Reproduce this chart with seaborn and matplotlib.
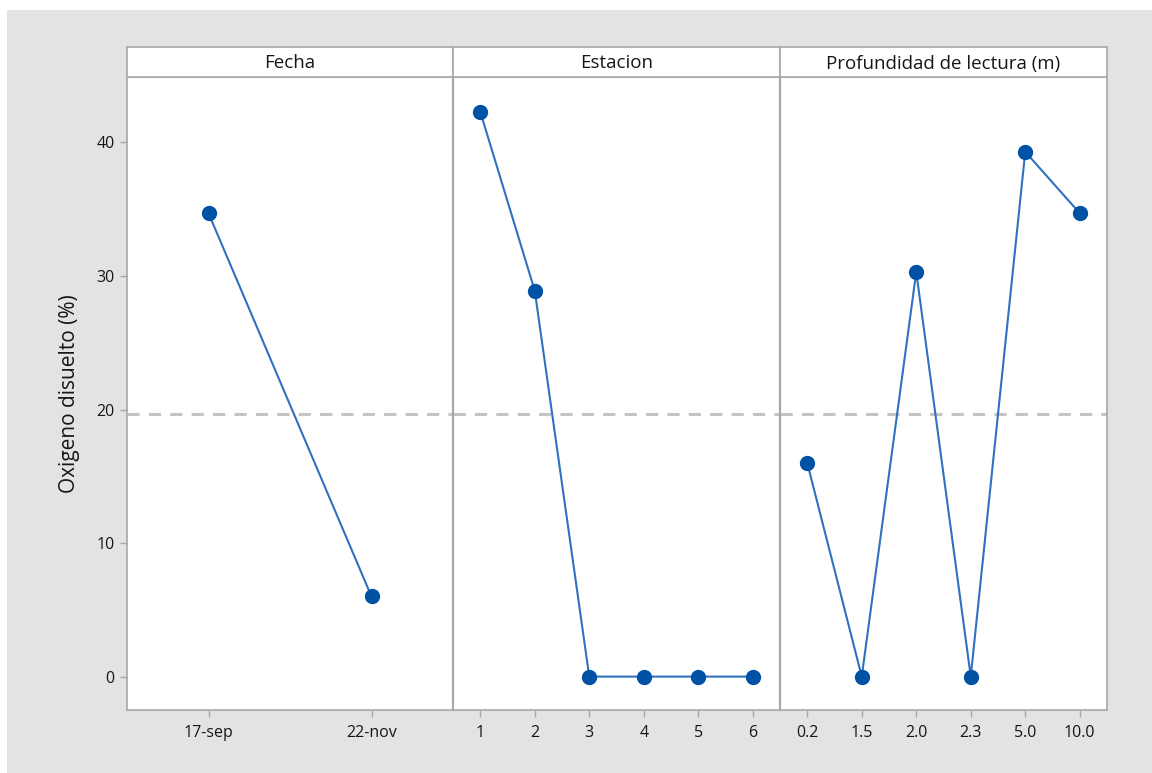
import matplotlib
matplotlib.use("Agg")
import matplotlib.pyplot as plt
import seaborn as sns
import pandas as pd
from matplotlib.patches import Rectangle

# Main effects of each factor on dissolved oxygen
fecha_levels = ["17-sep", "22-nov"]
fecha_means = [34.7, 6.0]

estacion_levels = ["1", "2", "3", "4", "5", "6"]
estacion_means = [42.3, 28.9, 0.0, 0.0, 0.0, 0.0]

profundidad_levels = ["0.2", "1.5", "2.0", "2.3", "5.0", "10.0"]
profundidad_means = [16.0, 0.0, 30.3, 0.0, 39.3, 34.7]

grand_mean = 19.7

panel_titles = ["Fecha", "Estacion", "Profundidad de lectura (m)"]
y_label = "Oxigeno disuelto (%)"
y_ticks = [0, 10, 20, 30, 40]

sns.set_theme(style="white")
plt.rcParams["font.family"] = ["Open Sans", "DejaVu Sans"]

W, H = 1152, 773
fig = plt.figure(figsize=(W / 100, H / 100), dpi=100)
fig.patch.set_facecolor("white")
fig.patches.append(Rectangle((7 / W, 0), 1 - 7 / W, 1 - 10 / H,
                             transform=fig.transFigure, facecolor="#e3e3e3",
                             edgecolor="none", zorder=-10))

top_strip, top_plot, bottom = 47, 77, 710
edges = [127, 453, 780, 1107]

frame_col = "#a8a8a8"
line_col = "#3070c0"
marker_col = "#0052a5"
text_col = "#161616"

panels = [
    (fecha_levels, fecha_means),
    (estacion_levels, estacion_means),
    (profundidad_levels, profundidad_means),
]

for i, ((levels, means), title) in enumerate(zip(panels, panel_titles)):
    x0, x1 = edges[i], edges[i + 1]
    ax = fig.add_axes([x0 / W, 1 - bottom / H, (x1 - x0) / W, (bottom - top_plot) / H])
    sax = fig.add_axes([x0 / W, 1 - top_plot / H, (x1 - x0) / W, (top_plot - top_strip) / H])

    df = pd.DataFrame({"nivel": levels, "media": means})
    ax.axhline(grand_mean, color="#c4c4c4", lw=2.2, ls=(0, (4, 3)), zorder=1)
    sns.pointplot(data=df, x="nivel", y="media", order=levels, ax=ax,
                  color=line_col, markers="o", linewidth=1.5,
                  markersize=0, errorbar=None, zorder=2)
    ax.plot(range(len(levels)), means, ls="none", marker="o", ms=10,
            color=marker_col, zorder=3)
    ax.set_xlim(-0.5, len(levels) - 0.5)
    ax.set_ylim(-2.5, 44.9)
    ax.set_xlabel("")
    ax.set_ylabel("")
    ax.set_facecolor("white")
    for s in ax.spines.values():
        s.set_color(frame_col)
        s.set_linewidth(1.2)
    if i > 0:
        ax.spines["left"].set_linewidth(1.6)
    ax.tick_params(axis="x", length=5, width=1, color=frame_col, bottom=True,
                   labelsize=11.5, labelcolor=text_col, pad=6)
    ax.set_yticks(y_ticks)
    if i == 0:
        ax.tick_params(axis="y", length=5, width=1, color=frame_col, left=True,
                       labelsize=11.5, labelcolor=text_col, pad=4)
        ax.set_ylabel(y_label, fontsize=15, color=text_col, labelpad=12)
    else:
        ax.tick_params(axis="y", left=False, labelleft=False)
    for lab in ax.get_xticklabels() + ax.get_yticklabels():
        lab.set_fontweight("medium")

    sax.set_xticks([])
    sax.set_yticks([])
    sax.set_facecolor("white")
    for s in sax.spines.values():
        s.set_color(frame_col)
        s.set_linewidth(1.2)
    sax.text(0.5, 0.45, title, ha="center", va="center", fontsize=13.5,
             fontweight="medium", color=text_col, transform=sax.transAxes)

fig.savefig("out.png", dpi=100)
